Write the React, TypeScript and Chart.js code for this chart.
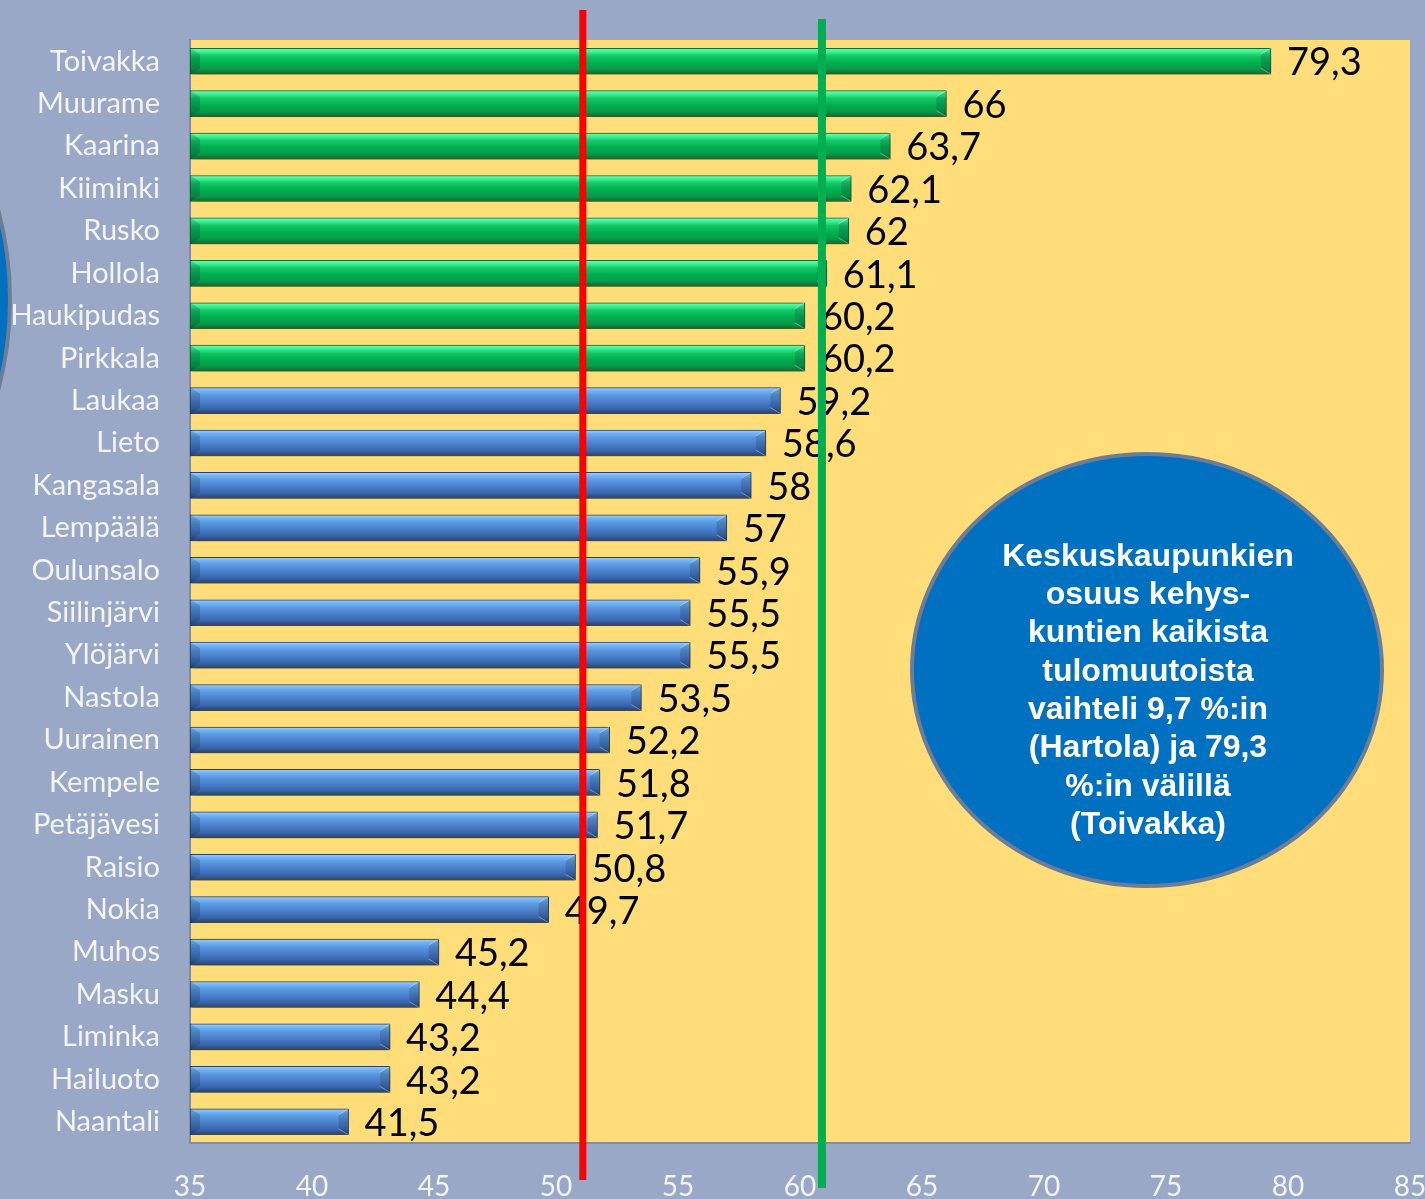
import React, { useEffect, useRef } from "react";
import { Chart, registerables } from "chart.js";

Chart.register(...registerables);

const categories = [
  "Toivakka", "Muurame", "Kaarina", "Kiiminki", "Rusko", "Hollola", "Haukipudas", "Pirkkala",
  "Laukaa", "Lieto", "Kangasala", "Lempäälä", "Oulunsalo", "Siilinjärvi", "Ylöjärvi", "Nastola",
  "Uurainen", "Kempele", "Petäjävesi", "Raisio", "Nokia", "Muhos", "Masku", "Liminka", "Hailuoto", "Naantali",
];
const values = [
  79.3, 66, 63.7, 62.1, 62, 61.1, 60.2, 60.2,
  59.2, 58.6, 58, 57, 55.9, 55.5, 55.5, 53.5,
  52.2, 51.8, 51.7, 50.8, 49.7, 45.2, 44.4, 43.2, 43.2, 41.5,
];
const groups = [
  "green", "green", "green", "green", "green", "green", "green", "green",
  "blue", "blue", "blue", "blue", "blue", "blue", "blue", "blue",
  "blue", "blue", "blue", "blue", "blue", "blue", "blue", "blue", "blue", "blue",
];
const xTicks = { min: 35, max: 85, step: 5 };
const redLineValue = 51.1;
const greenLineValue = 60.9;
const noteLines = [
  "Keskuskaupunkien",
  "osuus kehys-",
  "kuntien kaikista",
  "tulomuutoista",
  "vaihteli 9,7 %:in",
  "(Hartola) ja 79,3",
  "%:in välillä",
  "(Toivakka)",
];

const BG = "#98A8C6";
const PLOT_BG = "#FFDD78";
const BAR_H = 26;

const palettes: Record<string, { stops: [number, string][]; border: string }> = {
  green: {
    stops: [
      [0, "#6BFFB4"],
      [0.12, "#3EF597"],
      [0.3, "#14C766"],
      [0.55, "#00B050"],
      [0.8, "#0A9A48"],
      [1, "#0A6A33"],
    ],
    border: "#0B6A35",
  },
  blue: {
    stops: [
      [0, "#A0D2FF"],
      [0.12, "#74B4F6"],
      [0.3, "#5A98E0"],
      [0.55, "#4A7FCB"],
      [0.8, "#3A66AC"],
      [1, "#24436F"],
    ],
    border: "#23416E",
  },
};

const fmt = (v: number) => String(v).replace(".", ",");

const decor = {
  id: "decor",
  beforeDraw(chart: any) {
    const { ctx, width, height, chartArea: a } = chart;
    ctx.save();
    ctx.fillStyle = BG;
    ctx.fillRect(0, 0, width, height);
    // partial ellipse at the left edge
    ctx.beginPath();
    ctx.ellipse(-200, 300, 210, 272, 0, 0, Math.PI * 2);
    ctx.fillStyle = "#0070C0";
    ctx.fill();
    ctx.lineWidth = 4;
    ctx.strokeStyle = "#6F7C96";
    ctx.stroke();
    ctx.fillStyle = PLOT_BG;
    ctx.fillRect(a.left, a.top, a.right - a.left, a.bottom - a.top);
    ctx.restore();
  },
  beforeDatasetsDraw(chart: any) {
    const ctx = chart.ctx;
    ctx.save();
    ctx.shadowColor = "rgba(110,80,0,0.55)";
    ctx.shadowBlur = 8;
    ctx.shadowOffsetX = 3;
    ctx.shadowOffsetY = 6;
  },
  afterDatasetsDraw(chart: any) {
    const ctx = chart.ctx;
    ctx.restore();
    const meta = chart.getDatasetMeta(0);
    const xs = chart.scales.x;
    ctx.save();
    meta.data.forEach((el: any, i: number) => {
      const { x, y, base, height } = el.getProps(["x", "y", "base", "height"], true);
      const top = y - height / 2;
      const bottom = y + height / 2;
      const left = Math.max(base, chart.chartArea.left);
      const d = 10;
      const v = 6;
      // right bevel
      ctx.beginPath();
      ctx.moveTo(x, top);
      ctx.lineTo(x, bottom);
      ctx.lineTo(x - d, bottom - v);
      ctx.lineTo(x - d, top + v);
      ctx.closePath();
      ctx.fillStyle = "rgba(0,20,40,0.16)";
      ctx.fill();
      ctx.beginPath();
      ctx.moveTo(x, top);
      ctx.lineTo(x - d, top + v);
      ctx.moveTo(x, bottom);
      ctx.lineTo(x - d, bottom - v);
      ctx.strokeStyle = "rgba(255,255,255,0.35)";
      ctx.lineWidth = 1;
      ctx.stroke();
      // left bevel
      ctx.beginPath();
      ctx.moveTo(left, top);
      ctx.lineTo(left + d, top + v);
      ctx.lineTo(left + d, bottom - v);
      ctx.lineTo(left, bottom);
      ctx.closePath();
      ctx.fillStyle = "rgba(0,20,40,0.18)";
      ctx.fill();
      // value label
      ctx.font = "38px Lato";
      ctx.fillStyle = "#000";
      ctx.textAlign = "left";
      ctx.textBaseline = "middle";
      ctx.fillText(fmt(values[i]), x + 16, y + 2);
    });
    ctx.restore();

    // note ellipse
    ctx.save();
    ctx.beginPath();
    ctx.ellipse(1147, 670, 235, 216, 0, 0, Math.PI * 2);
    ctx.fillStyle = "#0070C0";
    ctx.fill();
    ctx.lineWidth = 4;
    ctx.strokeStyle = "#6F7C96";
    ctx.stroke();
    ctx.fillStyle = "#FFFFFF";
    ctx.font = 'bold 32px "Liberation Sans", Arial, sans-serif';
    ctx.textAlign = "center";
    ctx.textBaseline = "middle";
    noteLines.forEach((t, i) => ctx.fillText(t, 1148, 557 + i * 38.3));
    ctx.restore();

    // reference lines
    ctx.save();
    const rx = xs.getPixelForValue(redLineValue);
    ctx.fillStyle = "#FF0000";
    ctx.fillRect(rx - 3.5, 10, 7, 1170);
    const gx = xs.getPixelForValue(greenLineValue);
    ctx.fillStyle = "#00B050";
    ctx.fillRect(gx - 4, 19, 8, 1169);
    ctx.restore();
  },
};

export default function App() {
  const ref = useRef<HTMLCanvasElement | null>(null);
  useEffect(() => {
    if (!ref.current) return;
    const chart = new Chart(ref.current, {
      type: "bar",
      data: {
        labels: categories,
        datasets: [
          {
            data: values,
            base: xTicks.min,
            barThickness: BAR_H,
            borderWidth: 1,
            borderSkipped: false,
            borderColor: (c: any) => palettes[groups[c.dataIndex]].border,
            backgroundColor: (c: any) => {
              const ch = c.chart;
              const ys = ch.scales.y;
              if (!ys || !ch.chartArea) return palettes[groups[c.dataIndex]].stops[3][1];
              const cy = ys.getPixelForValue(c.dataIndex);
              const g = ch.ctx.createLinearGradient(0, cy - BAR_H / 2, 0, cy + BAR_H / 2);
              palettes[groups[c.dataIndex]].stops.forEach(([o, col]) => g.addColorStop(o, col));
              return g;
            },
          } as any,
        ],
      },
      options: {
        indexAxis: "y",
        responsive: false,
        animation: false,
        devicePixelRatio: 1,
        layout: { padding: { left: 0, right: 15, top: 40, bottom: 0 } },
        plugins: { legend: { display: false }, tooltip: { enabled: false } },
        scales: {
          x: {
            type: "linear",
            min: xTicks.min,
            max: xTicks.max,
            ticks: {
              stepSize: xTicks.step,
              color: "#F4F4F4",
              font: { family: "Lato", size: 28 },
              padding: 27,
              maxRotation: 0,
            },
            grid: { display: false, drawTicks: false },
            border: { display: true, color: "#8C8C8C", width: 2 },
            afterFit: (s: any) => {
              s.height = 56;
              s.paddingLeft = 0;
              s.paddingRight = 0;
            },
          },
          y: {
            type: "category",
            ticks: {
              color: "#F4F4F4",
              font: { family: "Lato", size: 29 },
              padding: 30,
              autoSkip: false,
            },
            grid: { display: false, drawTicks: false },
            border: { display: true, color: "#8C8C8C", width: 2 },
            afterFit: (s: any) => {
              s.width = 190;
              s.paddingTop = 0;
              s.paddingBottom = 0;
            },
          },
        },
      },
      plugins: [decor],
    } as any);
    return () => chart.destroy();
  }, []);
  return (
    <div style={{ position: "absolute", left: 0, top: 0, width: 1425, height: 1199, overflow: "hidden" }}>
      <canvas ref={ref} width={1425} height={1199} style={{ display: "block" }} />
    </div>
  );
}
